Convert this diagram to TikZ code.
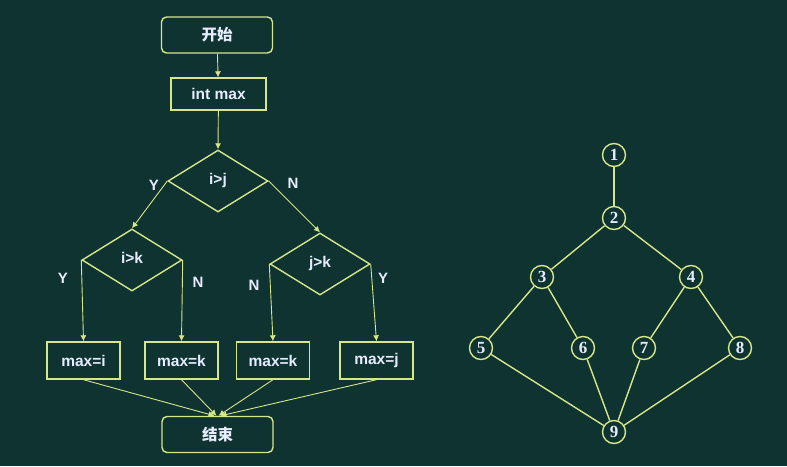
\documentclass[tikz,border=0pt]{standalone}
\usepackage{fontspec}
\setmainfont{Liberation Sans}
\newfontfamily\cjk{Noto Sans CJK SC}
\newfontfamily\numfont{Liberation Serif}
\usetikzlibrary{shapes.geometric,arrows.meta}
\definecolor{bg}{HTML}{0E3330}
\definecolor{ln}{HTML}{D6E68A}
\definecolor{tx}{HTML}{E8ECFF}
\tikzset{
  fbox/.style={draw=ln,line width=1.4pt,fill=bg,text=tx,font=\bfseries\fontsize{15.5}{17}\selectfont,inner sep=0pt},
  term/.style={fbox,rounded corners=5pt,minimum width=111pt,minimum height=36pt,font=\cjk\bfseries\fontsize{15.5}{17}\selectfont},
  proc/.style={fbox,minimum width=95pt,minimum height=32pt},
  asg/.style={fbox,minimum width=73pt,minimum height=37pt},
  dec/.style={fbox,diamond,aspect=1.6,minimum width=100pt,minimum height=62pt},
  arr/.style={draw=ln,line width=0.9pt,-{Latex[length=6pt,width=6pt]}},
  lbl/.style={text=tx,font=\bfseries\fontsize{15}{17}\selectfont},
  vx/.style={circle,draw=ln,line width=1.4pt,fill=bg,text=tx,minimum size=23pt,inner sep=0pt,font=\numfont\bfseries\fontsize{17}{19}\selectfont},
  edge/.style={draw=ln,line width=1.4pt}
}
\begin{document}
\begin{tikzpicture}[x=1pt,y=-1pt]
\fill[bg] (0,0) rectangle (787,466);
\useasboundingbox (0,0) rectangle (787,466);
% flowchart
\node[term] (start) at (217,35) {开始};
\node[proc] (init) at (218.5,94) {int max};
\node[dec] (d1) at (218,181) {\raisebox{4pt}{i>j}};
\node[dec] (d2) at (132,260) {\raisebox{4pt}{i>k}};
\node[dec] (d3) at (320,264) {\raisebox{4pt}{j>k}};
\node[asg] (a1) at (83.5,360.5) {max=i};
\node[asg] (a2) at (181.5,360.5) {max=k};
\node[asg] (a3) at (273,360.5) {max=k};
\node[asg] (a4) at (376.5,360.5) {max=j};
\node[term] (stop) at (217.5,434.5) {结束};
\draw[arr] (start) -- (init);
\draw[arr] (init) -- (d1.north);
\draw[arr] (d1.west) -- (d2.north);
\draw[arr] (d1.east) -- (d3.north);
\draw[arr] (d2.west) -- (a1.north);
\draw[arr] (d2.east) -- (a2.north);
\draw[arr] (d3.west) -- (a3.north);
\draw[arr] (d3.east) -- (a4.north);
\coordinate (e1) at ([xshift=-3pt]stop.north);
\coordinate (e2) at ([xshift=-1pt]stop.north);
\coordinate (e3) at ([xshift=1pt]stop.north);
\coordinate (e4) at ([xshift=3pt]stop.north);
\draw[arr] (a1.south) -- (e1);
\draw[arr] (a2.south) -- (e2);
\draw[arr] (a3.south) -- (e3);
\draw[arr] (a4.south) -- (e4);
\node[lbl] (y1) at (154,185) {Y};
\node[lbl] (n1) at (293,183) {N};
\node[lbl] (y2) at (63,278) {Y};
\node[lbl] (n2) at (198,282) {N};
\node[lbl] (n3) at (254,285) {N};
\node[lbl] (y3) at (383,278) {Y};
% graph
\node[vx] (v1) at (614,155) {1};
\node[vx] (v2) at (614,218) {2};
\node[vx] (v3) at (542,277) {3};
\node[vx] (v4) at (691,277) {4};
\node[vx] (v5) at (481,348) {5};
\node[vx] (v6) at (583,348) {6};
\node[vx] (v7) at (644,348) {7};
\node[vx] (v8) at (740,348) {8};
\node[vx] (v9) at (614,432) {9};
\draw[edge] (v1) -- (v2);
\draw[edge] (v2) -- (v3);
\draw[edge] (v2) -- (v4);
\draw[edge] (v3) -- (v5);
\draw[edge] (v3) -- (v6);
\draw[edge] (v4) -- (v7);
\draw[edge] (v4) -- (v8);
\draw[edge] (v5) -- (v9);
\draw[edge] (v6) -- (v9);
\draw[edge] (v7) -- (v9);
\draw[edge] (v8) -- (v9);
\end{tikzpicture}
\end{document}
